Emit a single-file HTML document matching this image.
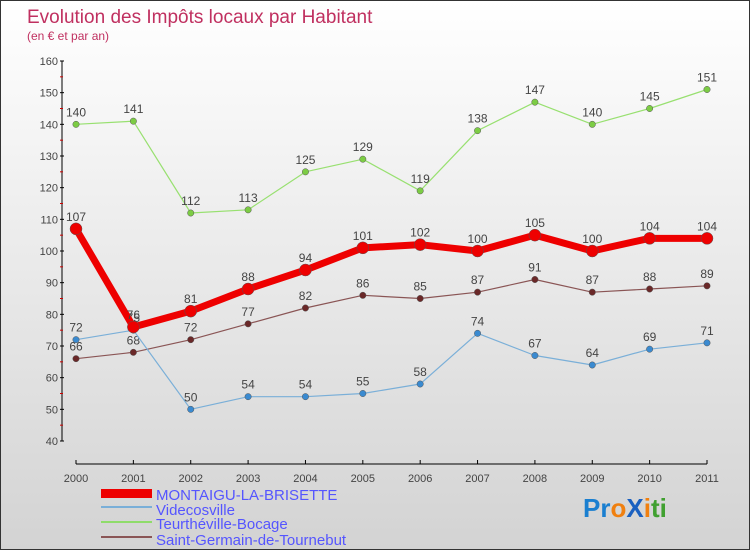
<!DOCTYPE html>
<html><head><meta charset="utf-8"><style>
body{margin:0}
#c{width:748px;height:548px;border:1px solid #333;background:linear-gradient(#fff,#d3d3d3);position:relative;font-family:"Liberation Sans",sans-serif;overflow:hidden}
svg text{font-family:"Liberation Sans",sans-serif}
</style></head><body>
<div id="c">
<svg id="s" width="748" height="548">
<text x="26" y="22" font-size="19" fill="#c03060">Evolution des Impôts locaux par Habitant</text>
<text x="26" y="39" font-size="12" fill="#c03060">(en € et par an)</text>
<g id="axes"></g><g id="series"></g>
<g>
<rect x="100" y="488" width="51" height="9" fill="#e00"/>
<text x="155" y="499" font-size="15" fill="#55f">MONTAIGU-LA-BRISETTE</text>
<line x1="100" y1="506" x2="151" y2="506" stroke="#7aafd8" stroke-width="2"/>
<text x="155" y="514" font-size="15" fill="#55f">Videcosville</text>
<line x1="100" y1="521" x2="151" y2="521" stroke="#8fdc6a" stroke-width="2"/>
<text x="155" y="528" font-size="15" fill="#55f">Teurthéville-Bocage</text>
<line x1="100" y1="536" x2="151" y2="536" stroke="#8a5555" stroke-width="2"/>
<text x="155" y="544" font-size="15" fill="#55f">Saint-Germain-de-Tournebut</text>
</g>
<text x="582" y="516" font-size="26" font-weight="bold"><tspan fill="#1a7fd0">Pr</tspan><tspan fill="#f08010">o</tspan><tspan fill="#1a60c0">X</tspan><tspan fill="#f08010">i</tspan><tspan fill="#40a030">ti</tspan></text>
</svg></div>
<script>
const years=[2000,2001,2002,2003,2004,2005,2006,2007,2008,2009,2010,2011];
const montaigu=[107,76,81,88,94,101,102,100,105,100,104,104];
const videcosville=[72,75,50,54,54,55,58,74,67,64,69,71];
const teurtheville=[140,141,112,113,125,129,119,138,147,140,145,151];
const saintGermain=[66,68,72,77,82,86,85,87,91,87,88,89];
const yTicks=[40,50,60,70,80,90,100,110,120,130,140,150,160];
const NS="http://www.w3.org/2000/svg";
const xs=i=>75+i*(631/11);
const ys=v=>440-(v-40)*(380/120);
function mk(t,a,p){const e=document.createElementNS(NS,t);for(const k in a)e.setAttribute(k,a[k]);p.appendChild(e);return e;}
const ax=document.getElementById('axes');
const yl=mk('line',{x1:61,y1:ys(160),x2:61,y2:ys(40),stroke:'#000'},ax);


yTicks.forEach(v=>{
 mk('line',{x1:59,y1:ys(v),x2:63,y2:ys(v),stroke:'#000'},ax);
 if(v<160)mk('line',{x1:59,y1:ys(v+5),x2:62,y2:ys(v+5),stroke:'#c00'},ax);
 const t=mk('text',{x:57,y:ys(v)+4,'font-size':11,fill:'#444','text-anchor':'end'},ax);t.textContent=v;
 
 
});
const xl=mk('line',{x1:75,y1:463,x2:706,y2:463,stroke:'#000'},ax);


years.forEach((y,i)=>{
 mk('line',{x1:xs(i),y1:459,x2:xs(i),y2:463,stroke:'#000'},ax);
 const t=mk('text',{x:xs(i),y:481,'font-size':11,fill:'#444','text-anchor':'middle'},ax);t.textContent=y;
 
 
});
const sg=document.getElementById('series');
function draw(vals,color,dot,w,r,name){
 const g=mk('g',{},sg);
 
 
 mk('polyline',{points:vals.map((v,i)=>xs(i)+','+ys(v)).join(' '),fill:'none',stroke:color,'stroke-width':w,'stroke-linejoin':'round'},g);
 vals.forEach((v,i)=>{
  const c=mk('circle',{cx:xs(i),cy:ys(v),r:r,fill:dot,stroke:'#555','stroke-width':0.5},g);
  
  
  const t=mk('text',{x:xs(i),y:ys(v)-8,'font-size':12,fill:'#444','text-anchor':'middle'},g);t.textContent=v;
  
  
 });
}
draw(teurtheville,'#98e070','#7ccc44',1.2,3.2,'series-teurtheville');
draw(saintGermain,'#8a5555','#6a2828',1.2,3.2,'series-saint-germain');
draw(videcosville,'#7aafd8','#3a8ad0',1.2,3.2,'series-videcosville');
draw(montaigu,'#ee0000','#ee0000',7,6,'series-montaigu');
</script>
</body></html>
